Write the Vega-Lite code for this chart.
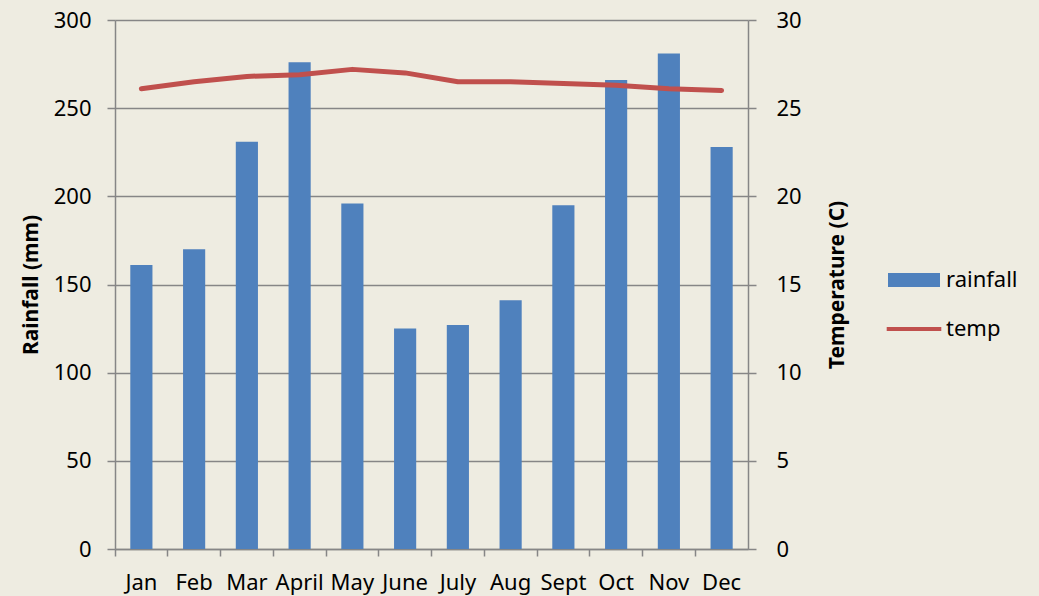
{
  "$schema": "https://vega.github.io/schema/vega-lite/v6.json",
  "width": 633,
  "height": 529,
  "autosize": {"type": "none"},
  "padding": {"left": 115, "top": 20, "right": 291, "bottom": 47},
  "background": "#EEECE1",
  "config": {
    "view": {"stroke": null},
    "font": "Noto Sans",
    "axis": {
      "domainColor": "#868686",
      "domainWidth": 1.5,
      "tickColor": "#868686",
      "tickWidth": 1.5,
      "gridColor": "#868686",
      "gridWidth": 1.5,
      "labelColor": "#000000",
      "labelFontSize": 22,
      "titleColor": "#000000",
      "titleFontSize": 21,
      "titleFontWeight": "bold"
    }
  },
  "data": {
    "values": [
      {"month": "Jan", "rainfall": 161, "temp": 26.1},
      {"month": "Feb", "rainfall": 170, "temp": 26.5},
      {"month": "Mar", "rainfall": 231, "temp": 26.8},
      {"month": "April", "rainfall": 276, "temp": 26.9},
      {"month": "May", "rainfall": 196, "temp": 27.2},
      {"month": "June", "rainfall": 125, "temp": 27.0},
      {"month": "July", "rainfall": 127, "temp": 26.5},
      {"month": "Aug", "rainfall": 141, "temp": 26.5},
      {"month": "Sept", "rainfall": 195, "temp": 26.4},
      {"month": "Oct", "rainfall": 266, "temp": 26.3},
      {"month": "Nov", "rainfall": 281, "temp": 26.1},
      {"month": "Dec", "rainfall": 228, "temp": 26.0}
    ]
  },
  "layer": [
    {
      "mark": {"type": "bar", "width": {"band": 0.42}},
      "encoding": {
        "x": {
          "field": "month",
          "type": "nominal",
          "sort": null,
          "scale": {"paddingInner": 0, "paddingOuter": 0},
          "axis": {
            "title": null,
            "labelAngle": 0,
            "bandPosition": 0,
            "labelOffset": 0,
            "tickSize": 7,
            "labelPadding": 16
          }
        },
        "y": {
          "field": "rainfall",
          "type": "quantitative",
          "scale": {"domain": [0, 300]},
          "axis": {
            "title": "Rainfall (mm)",
            "values": [0, 50, 100, 150, 200, 250, 300],
            "grid": true,
            "tickSize": 8,
            "labelPadding": 16,
            "titlePadding": 12
          }
        },
        "color": {
          "datum": "rainfall",
          "type": "nominal",
          "scale": {"domain": ["rainfall", "temp"], "range": ["#4F81BD", "#C0504D"]},
          "legend": {
            "orient": "none",
            "legendX": 773,
            "legendY": 234,
            "title": null,
            "labelFontSize": 22,
            "symbolSize": 2704,
            "labelOffset": 6,
            "rowPadding": 12,
            "padding": 0,
            "encode": {
              "symbols": {
                "update": {
                  "shape": [
                    {"test": "datum.value === 'rainfall'", "value": "M-1,-0.27H1V0.27H-1Z"},
                    {"value": "M-1.05,-0.08H1.05V0.08H-1.05Z"}
                  ],
                  "fill": {"scale": "color", "field": "value"},
                  "fillOpacity": {"value": 1},
                  "strokeWidth": {"value": 0}
                }
              }
            }
          }
        }
      }
    },
    {
      "mark": {"type": "line", "strokeWidth": 5, "strokeCap": "round", "strokeJoin": "round"},
      "encoding": {
        "x": {"field": "month", "type": "nominal", "sort": null},
        "y": {
          "field": "temp",
          "type": "quantitative",
          "scale": {"domain": [0, 30]},
          "axis": {
            "orient": "right",
            "title": "Temperature (C)",
            "titleAngle": 270,
            "values": [0, 5, 10, 15, 20, 25, 30],
            "grid": false,
            "tickSize": 8,
            "labelPadding": 20,
            "titlePadding": 46
          }
        },
        "color": {"datum": "temp", "type": "nominal"}
      }
    }
  ],
  "resolve": {"scale": {"y": "independent"}}
}
